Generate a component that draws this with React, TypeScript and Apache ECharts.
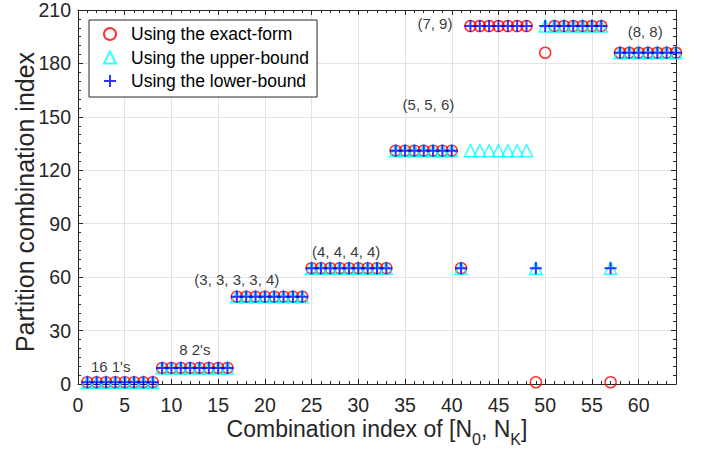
import React, { useEffect, useRef } from 'react';
import * as echarts from 'echarts';

const combinationIndex = [
  1, 2, 3, 4, 5, 6, 7, 8, 9, 10, 11, 12, 13, 14, 15, 16,
  17, 18, 19, 20, 21, 22, 23, 24, 25, 26, 27, 28, 29, 30, 31, 32,
  33, 34, 35, 36, 37, 38, 39, 40, 41, 42, 43, 44, 45, 46, 47, 48,
  49, 50, 51, 52, 53, 54, 55, 56, 57, 58, 59, 60, 61, 62, 63, 64,
];

const exactForm = [
  1, 1, 1, 1, 1, 1, 1, 1,
  9, 9, 9, 9, 9, 9, 9, 9,
  49, 49, 49, 49, 49, 49, 49, 49,
  65, 65, 65, 65, 65, 65, 65, 65, 65,
  131, 131, 131, 131, 131, 131, 131,
  65,
  201, 201, 201, 201, 201, 201, 201,
  1,
  186,
  201, 201, 201, 201, 201, 201,
  1,
  186, 186, 186, 186, 186, 186, 186,
];

const upperBound = [
  1, 1, 1, 1, 1, 1, 1, 1,
  9, 9, 9, 9, 9, 9, 9, 9,
  49, 49, 49, 49, 49, 49, 49, 49,
  65, 65, 65, 65, 65, 65, 65, 65, 65,
  131, 131, 131, 131, 131, 131, 131,
  65,
  131, 131, 131, 131, 131, 131, 131,
  65,
  201, 201, 201, 201, 201, 201, 201,
  65,
  186, 186, 186, 186, 186, 186, 186,
];

const lowerBound = [
  1, 1, 1, 1, 1, 1, 1, 1,
  9, 9, 9, 9, 9, 9, 9, 9,
  49, 49, 49, 49, 49, 49, 49, 49,
  65, 65, 65, 65, 65, 65, 65, 65, 65,
  131, 131, 131, 131, 131, 131, 131,
  65,
  201, 201, 201, 201, 201, 201, 201,
  65,
  201, 201, 201, 201, 201, 201, 201,
  65,
  186, 186, 186, 186, 186, 186, 186,
];

const seriesNames = ['Using the exact-form', 'Using the upper-bound', 'Using the lower-bound'];

const annotations = [
  { text: "16 1's", x: 3.5, y: 9.7 },
  { text: "8 2's", x: 12.5, y: 19.5 },
  { text: '(3, 3, 3, 3, 4)', x: 17, y: 58.8 },
  { text: '(4, 4, 4, 4)', x: 28.7, y: 74.3 },
  { text: '(5, 5, 6)', x: 37.5, y: 156.7 },
  { text: '(7, 9)', x: 38.2, y: 202.6 },
  { text: '(8, 8)', x: 60.7, y: 198 },
];

const FONT = "'Liberation Sans', Arial, Helvetica, sans-serif";
const AXIS_COLOR = '#262626';
const GRID_COLOR = '#e3e3e3';
const PLUS = 'path://M5,0L5,10M0,5L10,5';

export default function App() {
  const ref = useRef<HTMLDivElement>(null);

  useEffect(() => {
    if (!ref.current) return;
    const chart = echarts.init(ref.current, undefined, { renderer: 'svg' });

    const gridBox = { left: 78, right: 31, top: 10, bottom: 68, containLabel: false, outerBoundsMode: 'none' };
    const lineStyle = { color: AXIS_COLOR, width: 1 };

    const majorX = (position: 'top' | 'bottom', labels: boolean) => ({
      type: 'value',
      gridIndex: 0,
      position,
      min: 0,
      max: 64,
      interval: 5,
      axisLine: { show: true, onZero: false, lineStyle },
      axisTick: { show: true, inside: true, length: 5, lineStyle },
      axisLabel: {
        show: labels,
        fontSize: 19.5,
        color: AXIS_COLOR,
        margin: 11,
        showMaxLabel: false,
        fontFamily: FONT,
      },
      splitLine: { show: labels, lineStyle: { color: GRID_COLOR, width: 1 } },
      ...(labels
        ? {
            name: '{a|Combination index of [N}{sub|0}{a|, N}{sub|K}{a|]}',
            nameLocation: 'middle',
            nameGap: 33,
            nameMoveOverlap: false,
            nameTextStyle: {
              fontSize: 23,
              color: AXIS_COLOR,
              fontFamily: FONT,
              rich: {
                a: { fontSize: 23, lineHeight: 23, verticalAlign: 'top', color: AXIS_COLOR, fontFamily: FONT },
                sub: {
                  fontSize: 16,
                  lineHeight: 16,
                  verticalAlign: 'top',
                  padding: [14, 0, 0, 0],
                  color: AXIS_COLOR,
                  fontFamily: FONT,
                },
              },
            },
          }
        : {}),
    });

    const minorX = (position: 'top' | 'bottom') => ({
      type: 'value',
      gridIndex: 1,
      position,
      min: 0,
      max: 64,
      interval: 1,
      axisLine: { show: false, onZero: false },
      axisTick: { show: true, inside: true, length: 3, lineStyle },
      axisLabel: { show: false },
      splitLine: { show: false },
    });

    const majorY = (position: 'left' | 'right', labels: boolean) => ({
      type: 'value',
      gridIndex: 0,
      position,
      min: 0,
      max: 210,
      interval: 30,
      axisLine: { show: true, onZero: false, lineStyle },
      axisTick: { show: true, inside: true, length: 5, lineStyle },
      minorTick: { show: true, splitNumber: 6, length: 3, lineStyle },
      axisLabel: { show: labels, fontSize: 19.5, color: AXIS_COLOR, margin: 7, fontFamily: FONT },
      splitLine: { show: labels, lineStyle: { color: GRID_COLOR, width: 1 } },
      ...(labels
        ? {
            name: 'Partition combination index',
            nameLocation: 'middle',
            nameGap: 41,
            nameMoveOverlap: false,
            nameTextStyle: { fontSize: 25, color: AXIS_COLOR, fontFamily: FONT, padding: [0, 10, 0, 0] },
          }
        : {}),
    });

    const option = {
      animation: false,
      backgroundColor: '#ffffff',
      textStyle: { fontFamily: FONT },
      grid: [
        { ...gridBox },
        { ...gridBox },
      ],
      xAxis: [majorX('bottom', true), majorX('top', false), minorX('bottom'), minorX('top')],
      yAxis: [
        majorY('left', true),
        majorY('right', false),
        { type: 'value', gridIndex: 1, min: 0, max: 210, show: false },
      ],
      legend: {
        data: seriesNames,
        orient: 'vertical',
        left: 89,
        top: 20,
        padding: [5, 8, 7, 14],
        itemGap: 5.5,
        itemWidth: 12,
        itemHeight: 12,
        backgroundColor: '#ffffff',
        borderColor: AXIS_COLOR,
        borderWidth: 1,
        borderRadius: 0,
        textStyle: { fontSize: 17.5, color: '#000000', fontFamily: FONT, padding: [0, 0, 0, 10] },
      },
      series: [
        {
          type: 'scatter',
          name: seriesNames[0],
          xAxisIndex: 0,
          yAxisIndex: 0,
          data: combinationIndex.map((x, i) => [x, exactForm[i]]),
          symbol: 'circle',
          symbolSize: 11,
          itemStyle: { color: 'rgba(255,255,255,0)', borderColor: '#ff0000', borderWidth: 1.5 },
          z: 2,
        },
        {
          type: 'scatter',
          name: seriesNames[1],
          xAxisIndex: 0,
          yAxisIndex: 0,
          data: combinationIndex.map((x, i) => [x, upperBound[i]]),
          symbol: 'triangle',
          symbolSize: 12,
          itemStyle: { color: 'rgba(255,255,255,0)', borderColor: '#00ffff', borderWidth: 1.5 },
          z: 3,
        },
        {
          type: 'scatter',
          name: seriesNames[2],
          xAxisIndex: 0,
          yAxisIndex: 0,
          data: combinationIndex.map((x, i) => [x, lowerBound[i]]),
          symbol: PLUS,
          symbolSize: 12,
          itemStyle: { color: 'rgba(255,255,255,0)', borderColor: '#0000ff', borderWidth: 2 },
          z: 4,
        },
        {
          type: 'scatter',
          xAxisIndex: 0,
          yAxisIndex: 0,
          data: annotations.map((a) => ({ name: a.text, value: [a.x, a.y] })),
          symbolSize: 0,
          silent: true,
          label: {
            show: true,
            position: 'inside',
            formatter: '{b}',
            fontSize: 15,
            color: '#000000',
            fontFamily: FONT,
          },
          z: 5,
        },
      ],
    };

    chart.setOption(option as any);
    return () => chart.dispose();
  }, []);

  return <div ref={ref} style={{ width: 707, height: 452, position: 'absolute', left: 0, top: 0 }} />;
}
